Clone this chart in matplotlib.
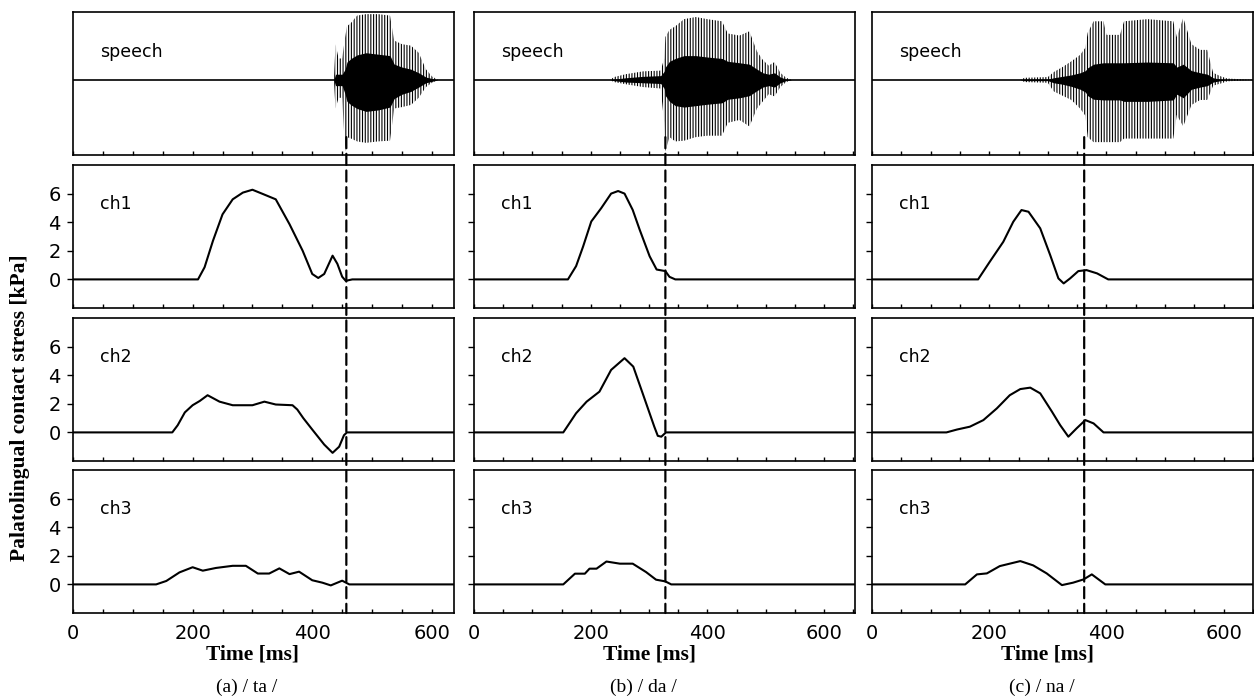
import matplotlib
matplotlib.use('Agg')
import matplotlib.pyplot as plt
import matplotlib.transforms as mtransforms
from matplotlib.patches import ConnectionPatch
from matplotlib.ticker import MultipleLocator, FixedLocator

#%% data (time in ms, stress in kPa)
panel_titles = ['(a) / ta /', '(b) / da /', '(c) / na /']
channel_names = ['ch1', 'ch2', 'ch3']
marker_ms = [457, 328, 362]
x_max = [637, 653, 650]
y_ticks = [0, 2, 4, 6]
x_ticks = [0, 200, 400, 600]

# speech waveform, outer envelope (hi/lo) and dense core (chi/clo)
sp_a_t = [0, 436, 439, 444, 450, 455, 458, 465, 475, 490, 510, 530, 537, 550, 565, 578, 590, 600, 610, 637]
sp_a_hi = [0, 0, 0.5, 0.3, 0.3, 0.6, 0.75, 0.8, 0.9, 0.92, 0.92, 0.9, 0.55, 0.5, 0.48, 0.38, 0.15, 0.05, 0, 0]
sp_a_lo = [0, 0, -0.4, -0.25, -0.25, -1.0, -0.8, -0.82, -0.86, -0.88, -0.86, -0.85, -0.4, -0.38, -0.35, -0.25, -0.1, -0.04, 0, 0]
sp_a_chi = [0, 0, 0.08, 0.08, 0.08, 0.15, 0.25, 0.3, 0.35, 0.38, 0.36, 0.34, 0.22, 0.18, 0.15, 0.1, 0.04, 0.02, 0, 0]
sp_a_clo = [0, 0, -0.08, -0.08, -0.08, -0.2, -0.3, -0.35, -0.4, -0.44, -0.42, -0.38, -0.26, -0.2, -0.16, -0.1, -0.04, -0.02, 0, 0]

sp_b_t = [0, 233, 240, 260, 290, 320, 326, 328, 335, 345, 360, 380, 400, 425, 435, 455, 472, 485, 495, 505, 515, 525, 535, 545, 653]
sp_b_hi = [0, 0, 0.04, 0.08, 0.12, 0.13, 0.3, 0.6, 0.7, 0.75, 0.85, 0.88, 0.85, 0.82, 0.65, 0.62, 0.68, 0.4, 0.28, 0.2, 0.25, 0.1, 0.03, 0, 0]
sp_b_lo = [0, 0, -0.03, -0.06, -0.1, -0.12, -0.6, -1.0, -0.8, -0.86, -0.85, -0.8, -0.78, -0.78, -0.6, -0.56, -0.65, -0.4, -0.3, -0.2, -0.23, -0.1, -0.03, 0, 0]
sp_b_chi = [0, 0, 0.01, 0.03, 0.05, 0.06, 0.12, 0.18, 0.26, 0.3, 0.34, 0.34, 0.32, 0.3, 0.26, 0.24, 0.22, 0.15, 0.1, 0.08, 0.1, 0.04, 0.01, 0, 0]
sp_b_clo = [0, 0, -0.01, -0.03, -0.04, -0.05, -0.12, -0.22, -0.3, -0.36, -0.38, -0.36, -0.34, -0.32, -0.27, -0.25, -0.22, -0.15, -0.1, -0.08, -0.1, -0.04, -0.01, 0, 0]

sp_c_t = [0, 253, 260, 300, 310, 325, 340, 355, 364, 368, 378, 395, 400, 423, 430, 470, 514, 520, 531, 545, 560, 572, 582, 595, 606, 650]
sp_c_hi = [0, 0, 0.03, 0.04, 0.11, 0.18, 0.26, 0.35, 0.45, 0.66, 0.82, 0.82, 0.63, 0.63, 0.82, 0.85, 0.82, 0.6, 0.87, 0.5, 0.42, 0.42, 0.1, 0.05, 0.02, 0]
sp_c_lo = [0, 0, -0.03, -0.04, -0.16, -0.22, -0.28, -0.4, -0.5, -0.8, -0.87, -0.87, -0.87, -0.87, -0.82, -0.82, -0.82, -0.49, -0.65, -0.35, -0.28, -0.28, -0.08, -0.05, -0.02, 0]
sp_c_chi = [0, 0, 0.01, 0.01, 0.03, 0.05, 0.07, 0.1, 0.13, 0.17, 0.22, 0.24, 0.24, 0.24, 0.24, 0.25, 0.24, 0.18, 0.22, 0.13, 0.1, 0.08, 0.03, 0.01, 0.0, 0]
sp_c_clo = [0, 0, -0.01, -0.01, -0.04, -0.06, -0.09, -0.13, -0.17, -0.22, -0.27, -0.28, -0.28, -0.28, -0.3, -0.3, -0.28, -0.2, -0.25, -0.13, -0.1, -0.08, -0.03, -0.01, 0.0, 0]

# contact stress, /ta/
ch1_a_t = [0, 209, 220, 234, 250, 267, 284, 300, 317, 339, 362, 384, 400, 410, 420, 434, 442, 450, 456, 467, 637]
ch1_a_v = [0, 0, 0.85, 2.7, 4.55, 5.6, 6.07, 6.27, 5.98, 5.6, 3.86, 2.0, 0.38, 0.1, 0.38, 1.66, 1.09, 0.19, -0.1, 0, 0]
ch2_a_t = [0, 166, 175, 187, 200, 212, 225, 245, 267, 300, 320, 339, 367, 375, 385, 400, 420, 434, 445, 453, 458, 637]
ch2_a_v = [0, 0, 0.5, 1.4, 1.9, 2.2, 2.6, 2.15, 1.9, 1.9, 2.15, 1.95, 1.9, 1.6, 1.0, 0.2, -0.85, -1.43, -1.0, -0.2, 0, 0]
ch3_a_t = [0, 139, 156, 178, 200, 217, 239, 267, 289, 309, 328, 345, 362, 378, 400, 417, 431, 450, 462, 637]
ch3_a_v = [0, 0, 0.24, 0.84, 1.2, 0.96, 1.15, 1.3, 1.3, 0.76, 0.76, 1.12, 0.72, 0.89, 0.29, 0.12, -0.07, 0.26, 0, 0]

# contact stress, /da/
ch1_b_t = [0, 161, 175, 187, 201, 218, 235, 247, 258, 272, 284, 301, 313, 328, 335, 345, 653]
ch1_b_v = [0, 0, 0.93, 2.3, 4.05, 4.98, 6.0, 6.18, 6.0, 4.86, 3.47, 1.62, 0.69, 0.58, 0.18, 0, 0]
ch2_b_t = [0, 153, 158, 175, 193, 215, 235, 258, 273, 289, 309, 315, 321, 329, 653]
ch2_b_v = [0, 0, 0.3, 1.34, 2.15, 2.85, 4.37, 5.19, 4.6, 2.74, 0.4, -0.24, -0.3, 0, 0]
ch3_b_t = [0, 153, 173, 190, 198, 210, 227, 250, 272, 295, 312, 328, 338, 653]
ch3_b_v = [0, 0, 0.75, 0.75, 1.1, 1.1, 1.6, 1.45, 1.45, 0.86, 0.33, 0.21, 0, 0]

# contact stress, /na/
ch1_c_t = [0, 181, 201, 224, 241, 255, 267, 287, 304, 318, 327, 338, 352, 366, 384, 403, 650]
ch1_c_v = [0, 0, 1.24, 2.63, 4.03, 4.85, 4.73, 3.57, 1.7, 0.07, -0.28, 0.07, 0.58, 0.65, 0.42, 0, 0]
ch2_c_t = [0, 127, 145, 167, 190, 213, 235, 253, 270, 287, 307, 321, 335, 349, 364, 378, 395, 650]
ch2_c_v = [0, 0, 0.2, 0.4, 0.86, 1.68, 2.6, 3.03, 3.13, 2.73, 1.45, 0.51, -0.3, 0.28, 0.86, 0.63, 0, 0]
ch3_c_t = [0, 159, 179, 196, 218, 253, 275, 298, 324, 343, 361, 375, 398, 650]
ch3_c_v = [0, 0, 0.7, 0.77, 1.28, 1.63, 1.33, 0.77, -0.05, 0.12, 0.35, 0.7, 0, 0]

speech = [(sp_a_t, sp_a_hi, sp_a_lo, sp_a_chi, sp_a_clo),
          (sp_b_t, sp_b_hi, sp_b_lo, sp_b_chi, sp_b_clo),
          (sp_c_t, sp_c_hi, sp_c_lo, sp_c_chi, sp_c_clo)]
stress = [[(ch1_a_t, ch1_a_v), (ch2_a_t, ch2_a_v), (ch3_a_t, ch3_a_v)],
          [(ch1_b_t, ch1_b_v), (ch2_b_t, ch2_b_v), (ch3_b_t, ch3_b_v)],
          [(ch1_c_t, ch1_c_v), (ch2_c_t, ch2_c_v), (ch3_c_t, ch3_c_v)]]

#%% layout
plt.rcParams['hatch.linewidth'] = 0.8
W, H = 1254, 700
fig = plt.figure(figsize=(W / 100, H / 100), dpi=100)
col_left = [73, 474, 872]
col_w = 381
row_top = [12, 165, 318, 470]
row_h = 143
serif = 'Liberation Serif'
tick_fs = 14

def rect(l, t):
    return [l / W, 1 - (t + row_h) / H, col_w / W, row_h / H]

for c in range(3):
    axes = []
    for r in range(4):
        ax = fig.add_axes(rect(col_left[c], row_top[r]))
        ax.set_xlim(0, x_max[c])
        ax.xaxis.set_major_locator(FixedLocator(x_ticks))
        ax.xaxis.set_minor_locator(MultipleLocator(50))
        ax.tick_params(axis='x', which='both', direction='in', length=3, width=1, pad=8, labelsize=tick_fs)
        for s in ax.spines.values():
            s.set_linewidth(1.2)
        if r < 3:
            ax.tick_params(axis='x', labelbottom=False)
        axes.append(ax)

    # speech row
    ax = axes[0]
    t, hi, lo, chi, clo = speech[c]
    ax.fill_between(t, lo, hi, facecolor='none', edgecolor='k', hatch='||||||', linewidth=0)
    ax.fill_between(t, clo, chi, color='k', linewidth=0)
    ax.axhline(0, color='k', lw=1.2)
    ax.set_ylim(-1.05, 0.95)
    ax.set_yticks([])
    ax.text(0.07, 0.72, 'speech', transform=ax.transAxes, fontsize=12.5, va='center')

    # stress rows
    for k in range(3):
        ax = axes[k + 1]
        t, v = stress[c][k]
        ax.plot(t, v, color='k', lw=1.5)
        ax.set_ylim(-2.0, 8.0)
        ax.set_yticks(y_ticks)
        ax.tick_params(axis='y', direction='out', length=4, width=1, pad=5, labelsize=tick_fs)
        if c > 0:
            ax.tick_params(axis='y', labelleft=False)
        ax.text(0.07, 0.73, channel_names[k], transform=ax.transAxes, fontsize=12.5, va='center')

    # dashed marker through all rows
    con = ConnectionPatch(xyA=(marker_ms[c], -0.8), coordsA='data', axesA=axes[0],
                          xyB=(marker_ms[c], -2.0), coordsB='data', axesB=axes[3],
                          color='k', lw=1.6, linestyle=(0, (5, 2.5)), zorder=10)
    fig.add_artist(con)

    bottom = axes[3]
    tr = mtransforms.blended_transform_factory(bottom.transData, fig.transFigure)
    bottom.text(300, 1 - 655 / H, 'Time [ms]', transform=tr, ha='center', va='center',
                family=serif, fontweight='bold', fontsize=15.5)
    bottom.text(290, 1 - 687 / H, panel_titles[c], transform=tr, ha='center', va='center',
                family=serif, fontsize=14)

fig.text(20 / W, 1 - 408 / H, 'Palatolingual contact stress [kPa]', rotation=90,
         ha='center', va='center', family=serif, fontweight='bold', fontsize=15.5)

plt.savefig('out.png', dpi=100)
